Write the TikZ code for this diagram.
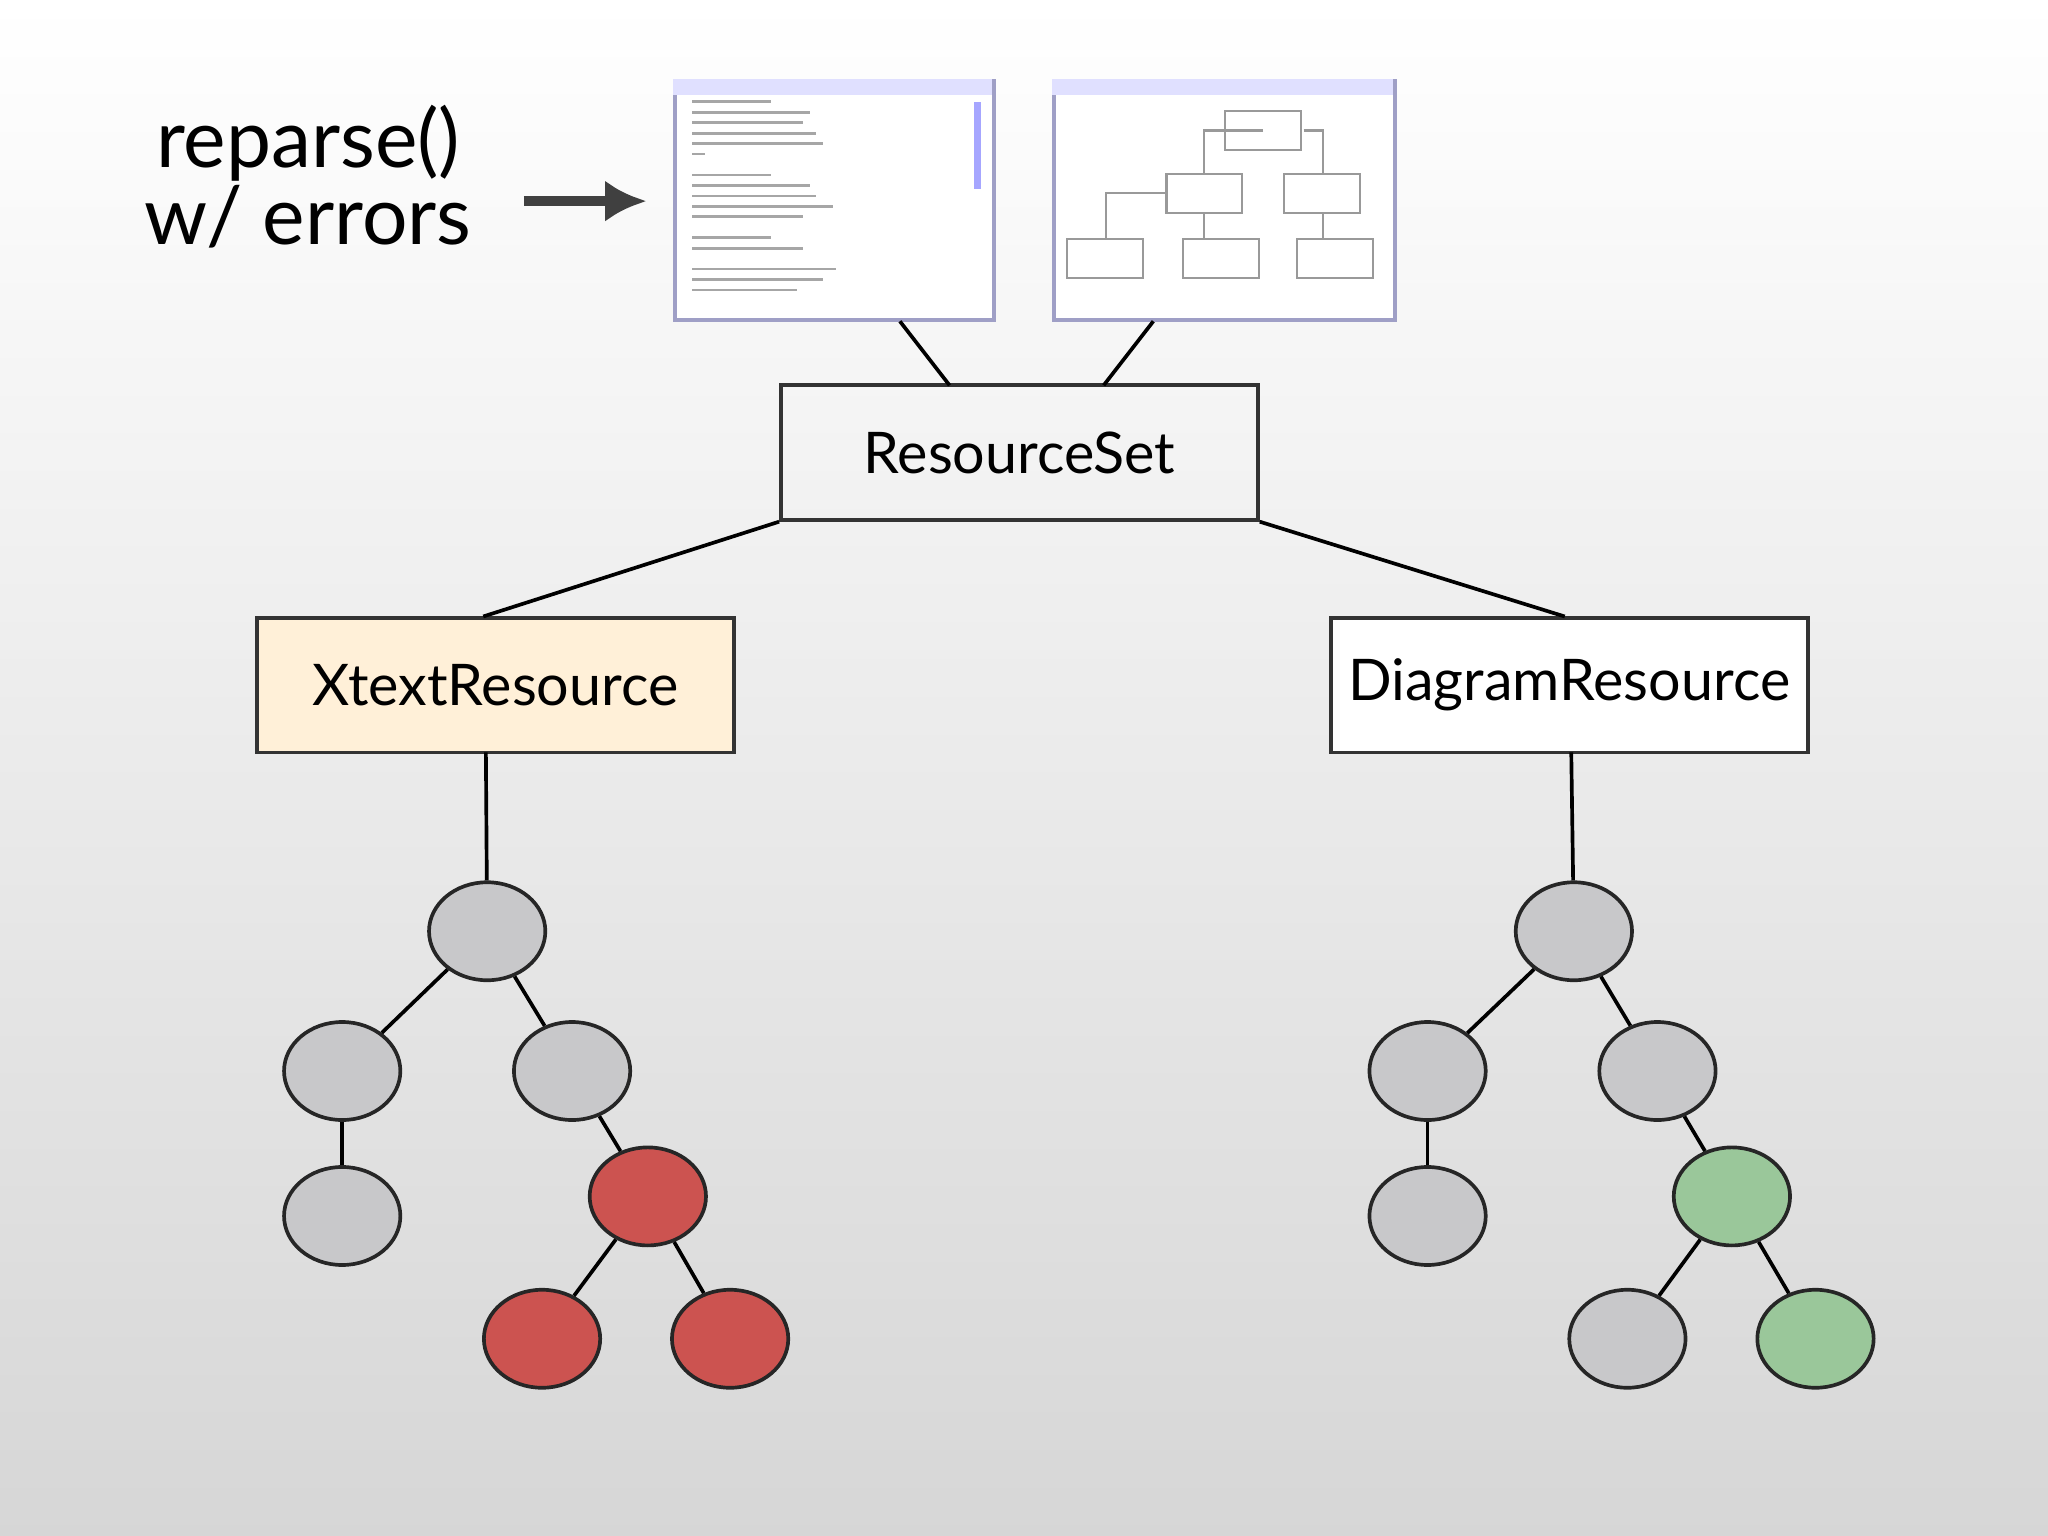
\documentclass[tikz,border=0pt]{standalone}
\usepackage{fontspec}
\setmainfont{Lato}
\definecolor{xtbg}{HTML}{FFF0D8}
\definecolor{nodegray}{HTML}{C8C8CA}
\definecolor{errred}{HTML}{CC5350}
\definecolor{okgreen}{HTML}{9AC79A}
\tikzstyle{res}=[draw=black!80,minimum width=3.65cm,minimum height=1.03cm,inner sep=0pt,font=\fontsize{12.5}{15}\selectfont]
\tikzstyle{tn}=[ellipse,draw=black!85,fill=nodegray,minimum width=0.89cm,minimum height=0.75cm,inner sep=0pt]
\tikzstyle{win}=[draw=blue!25!gray!60,fill=white,minimum width=2.44cm,minimum height=1.83cm,inner sep=0pt]
\usetikzlibrary{shapes.geometric,arrows.meta}
\begin{document}
\begin{tikzpicture}[x=0.01cm,y=-0.01cm,line width=0.8pt]
  \shade[top color=white,bottom color=black!16] (0,0) rectangle (1568,1176);
  \useasboundingbox (0,0) rectangle (1568,1176);

  \node[font=\fontsize{17.5}{20}\selectfont] (t1) at (236,110) {reparse()};
  \node[font=\fontsize{17.5}{20}\selectfont] (t2) at (236,166) {w/ errors};
  \coordinate (a1) at (401,154);
  \node[win] (w1) at (639,153.5) {};
  \node[win,minimum width=2.61cm] (w2) at (937.5,153.5) {};
  \draw[black!75,line width=2.2pt,-{Latex[length=9pt,width=9pt]}] (a1) -- ++(94,0);

  % fake window contents
  \fill[blue!12] (w1.north west) rectangle ++(244,12);
  \fill[blue!12] (w2.north west) rectangle ++(261,12);
  \foreach \y/\l in {78/60,86/90,94/85,102/95,110/100,118/10,134/60,142/90,150/95,158/108,166/85,182/60,190/85,206/110,214/100,222/80}
    \draw[black!35,line width=0.6pt] (530,\y) -- ++(\l,0);
  \fill[blue!35] (746,78) rectangle (751,145);
  \foreach \x/\y in {938/85,893/133,983/133,817/183,906/183,993/183}
    \draw[black!40,line width=0.5pt] (\x,\y) rectangle ++(58,30);
  \draw[black!40,line width=0.5pt] (967,100) -- (922,100) -- (922,133) (998,100) -- (1013,100) -- (1013,133)
    (893,148) -- (847,148) -- (847,183) (922,163) -- (922,183) (983,163) -- (1013,163) -- (1013,183);

  \node[res] (rs) at (780.5,346.5) {ResourceSet};
  \node[res,fill=xtbg] (xr) at (379.5,524.5) {XtextResource};
  \node[res,fill=white] (dr) at (1201.5,524.5) {DiagramResource};
  \draw (689,246) -- (727,295);
  \draw (883,246) -- (845,295);
  \draw (rs.south west) -- (370,472);
  \draw (rs.south east) -- (1198,472);

  % left tree
  \node[tn] (l1) at (373,713) {};
  \node[tn] (l2) at (262,820) {};
  \node[tn] (l3) at (438,820) {};
  \node[tn] (l4) at (262,931) {};
  \node[tn,fill=errred] (l5) at (496,916) {};
  \node[tn,fill=errred] (l6) at (415,1025) {};
  \node[tn,fill=errred] (l7) at (559,1025) {};
  % right tree
  \node[tn] (r1) at (1205,713) {};
  \node[tn] (r2) at (1093,820) {};
  \node[tn] (r3) at (1269,820) {};
  \node[tn] (r4) at (1093,931) {};
  \node[tn,fill=okgreen] (r5) at (1326,916) {};
  \node[tn] (r6) at (1246,1025) {};
  \node[tn,fill=okgreen] (r7) at (1390,1025) {};

  \draw (372,576) -- (l1);
  \draw (1203,576) -- (r1);
  \foreach \from/\to in {l1/l2,l1/l3,l2/l4,l3/l5,l5/l6,l5/l7,r1/r2,r1/r3,r2/r4,r3/r5,r5/r6,r5/r7}
    \draw (\from) -- (\to);
\end{tikzpicture}
\end{document}
